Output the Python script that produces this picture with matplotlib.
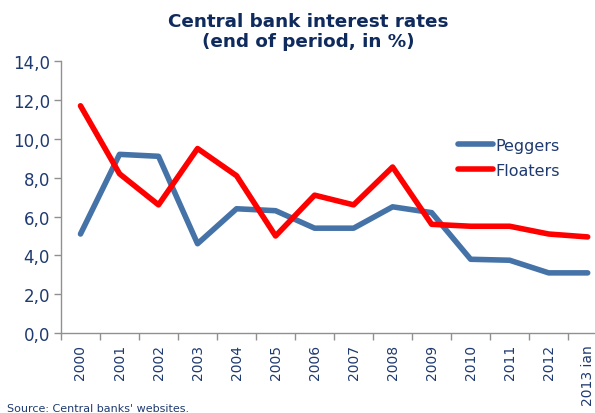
import matplotlib.pyplot as plt
from matplotlib.ticker import FuncFormatter, FixedLocator

years = ['2000', '2001', '2002', '2003', '2004', '2005', '2006', '2007',
         '2008', '2009', '2010', '2011', '2012', '2013 ian']
peggers = [5.1, 9.2, 9.1, 4.6, 6.4, 6.3, 5.4, 5.4, 6.5, 6.2, 3.8, 3.75, 3.1, 3.1]
floaters = [11.7, 8.2, 6.6, 9.5, 8.1, 5.0, 7.1, 6.6, 8.55, 5.6, 5.5, 5.5, 5.1, 4.95]

navy = '#1F3A70'
title_navy = '#0F2A5C'

fig = plt.figure(figsize=(5.95, 4.14), dpi=100)
ax = fig.add_axes([0.1025, 0.193, 0.918, 0.657])

x = range(len(years))
ax.plot(x, peggers, color='#4572A7', lw=4, solid_capstyle='round', label='Peggers')
ax.plot(x, floaters, color='#FF0000', lw=4, solid_capstyle='round', label='Floaters')

ax.set_xlim(-0.5, len(years) - 0.5)
ax.set_ylim(0, 14)
ax.set_yticks([0, 2, 4, 6, 8, 10, 12, 14])
ax.yaxis.set_major_formatter(FuncFormatter(lambda v, p: f'{v:.1f}'.replace('.', ',')))

# category labels centred, tick marks on the boundaries
ax.set_xticks(list(x))
ax.set_xticklabels(years, rotation=90, fontsize=10, color=navy)
ax.tick_params(axis='x', which='major', length=0, pad=8)
ax.xaxis.set_minor_locator(FixedLocator([i - 0.5 for i in range(len(years) + 1)]))
ax.tick_params(axis='x', which='minor', length=5, color='#909090', width=1)
ax.tick_params(axis='y', length=5, color='#909090', width=1, labelsize=12,
               labelcolor=navy, pad=3)

for side in ['top', 'right']:
    ax.spines[side].set_visible(False)
for side in ['left', 'bottom']:
    ax.spines[side].set_color('#909090')
    ax.spines[side].set_linewidth(1)

fig.text(0.518, 0.968, 'Central bank interest rates\n(end of period, in %)',
         ha='center', va='top', fontsize=13.2, fontweight='heavy',
         color=title_navy, linespacing=1.1)

ax.legend(loc='upper left', bbox_to_anchor=(0.7, 0.77), frameon=False,
          fontsize=11.5, handlelength=2.2, handletextpad=0.15, labelspacing=0.6,
          labelcolor=navy)

fig.text(0.012, 0.024, "Source: Central banks' websites.", fontsize=8,
         color=navy, ha='left', va='top')

fig.savefig('out.png', dpi=100)
